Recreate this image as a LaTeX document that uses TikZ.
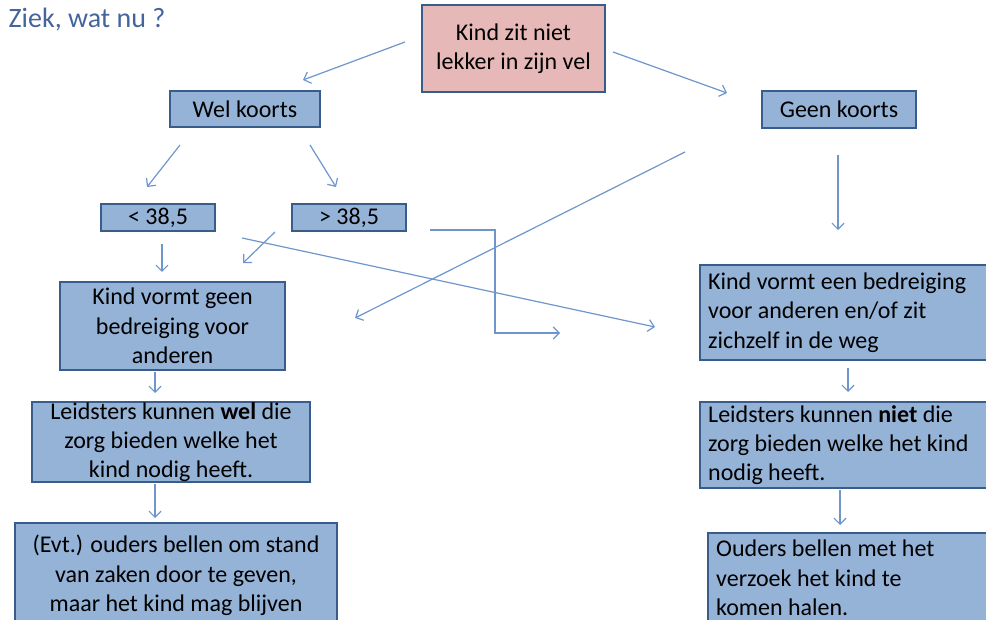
\documentclass[tikz,border=0pt]{standalone}
\usepackage{fontspec}
\setmainfont{Carlito}
\usepackage{xcolor}
\usetikzlibrary{arrows.meta}

\definecolor{boxblue}{RGB}{149,179,215}
\definecolor{boxline}{RGB}{56,93,138}
\definecolor{boxpink}{RGB}{230,185,184}
\definecolor{arrowblue}{RGB}{110,150,205}
\definecolor{titleblue}{RGB}{68,100,156}

\tikzset{
  box/.style={draw=boxline, line width=1.8pt, fill=boxblue, inner xsep=6pt, inner ysep=0pt,
    align=center, font=\fontsize{18}{22}\selectfont},
  leftbox/.style={box, align=flush left},
  arrowline/.style={draw=arrowblue, line width=0.9pt, -{Straight Barb[length=4.5pt,width=9pt]}}
}

\begin{document}
\begin{tikzpicture}[x=0.75pt,y=0.75pt,yscale=-1,xscale=1]
\useasboundingbox (0,0) rectangle (986,620);
\clip (0,0) rectangle (986,620);

% Text Node
\node (title) at (87,20) [text=titleblue, font=\fontsize{21}{25}\selectfont] {Ziek, wat nu ?};

% Boxes
\node (top) at (513.5,48.5) [box, fill=boxpink, minimum width=137.25pt, minimum height=65.25pt] {Kind zit niet\\lekker in zijn vel};
\node (wel) at (245,109) [box, minimum width=112.5pt, minimum height=27pt] {Wel koorts};
\node (geen) at (839,109.5) [box, minimum width=115.5pt, minimum height=27.75pt] {Geen koorts};
\node (lt) at (158,217.5) [box, minimum width=85.5pt, minimum height=20.25pt] {< 38,5};
\node (gt) at (349,217.5) [box, minimum width=85.5pt, minimum height=20.25pt] {> 38,5};
\node (nogeen) at (172.5,326) [box, minimum width=168.75pt, minimum height=66pt] {Kind vormt geen\\bedreiging voor\\anderen};
\node (welzorg) at (171,442) [box, minimum width=208.5pt, minimum height=60pt] {Leidsters kunnen \textbf{wel} die\\zorg bieden welke het\\kind nodig heeft.};
\node (evt) at (176,575.5) [box, minimum width=241.5pt, minimum height=78.75pt] {(Evt.) ouders bellen om stand\\van zaken door te geven,\\maar het kind mag blijven};
\node (dreig) at (847.5,312.5) [leftbox, text width=209pt, minimum height=71.25pt] {Kind vormt een bedreiging\\voor anderen en/of zit\\zichzelf in de weg};
\node (nietzorg) at (847.5,445) [leftbox, text width=209pt, minimum height=64.5pt] {Leidsters kunnen \textbf{niet} die\\zorg bieden welke het kind\\nodig heeft.};
\node (ouders) at (851.5,578) [leftbox, text width=203pt, minimum height=67.5pt] {Ouders bellen met het\\verzoek het kind te\\komen halen.};

% free ends of the arrows
\coordinate (topL) at (405,42);   \coordinate (welT) at (303,80);
\coordinate (topR) at (613,52);   \coordinate (geenT) at (727,93);
\coordinate (welL) at (180,145);  \coordinate (ltT) at (147,187);
\coordinate (welR) at (310,145);  \coordinate (gtT) at (336,187);
\coordinate (geenB) at (838,155); \coordinate (dreigT) at (838,230);
\coordinate (ltB) at (162,244);   \coordinate (nogeenT) at (162,272);
\coordinate (gtB) at (275,232);   \coordinate (nogeenR) at (243,263);
\coordinate (ltR) at (242,238);   \coordinate (dreigL) at (655,327);
\coordinate (geenL) at (685,152); \coordinate (crossE) at (355,318);
\coordinate (gtR) at (430,230);   \coordinate (elbow) at (495,333); \coordinate (elbowE) at (560,333);
\coordinate (nogeenB) at (155,372);   \coordinate (welzorgT) at (155,393);
\coordinate (welzorgB) at (155,484);  \coordinate (evtT) at (155,518);
\coordinate (dreigB) at (848,368);    \coordinate (nietzorgT) at (848,392);
\coordinate (nietzorgB) at (840,490); \coordinate (oudersT) at (840,525);

%Straight Lines
\draw [arrowline] (topL) -- (welT);
\draw [arrowline] (topR) -- (geenT);
\draw [arrowline] (welL) -- (ltT);
\draw [arrowline] (welR) -- (gtT);
\draw [arrowline] (geenB) -- (dreigT);
\draw [arrowline] (ltB) -- (nogeenT);
\draw [arrowline] (gtB) -- (nogeenR);
\draw [arrowline] (ltR) -- (dreigL);
\draw [arrowline] (geenL) -- (crossE);
\draw [arrowline] (gtR) -| (elbow) -- (elbowE);
\draw [arrowline] (nogeenB) -- (welzorgT);
\draw [arrowline] (welzorgB) -- (evtT);
\draw [arrowline] (dreigB) -- (nietzorgT);
\draw [arrowline] (nietzorgB) -- (oudersT);

\end{tikzpicture}
\end{document}
